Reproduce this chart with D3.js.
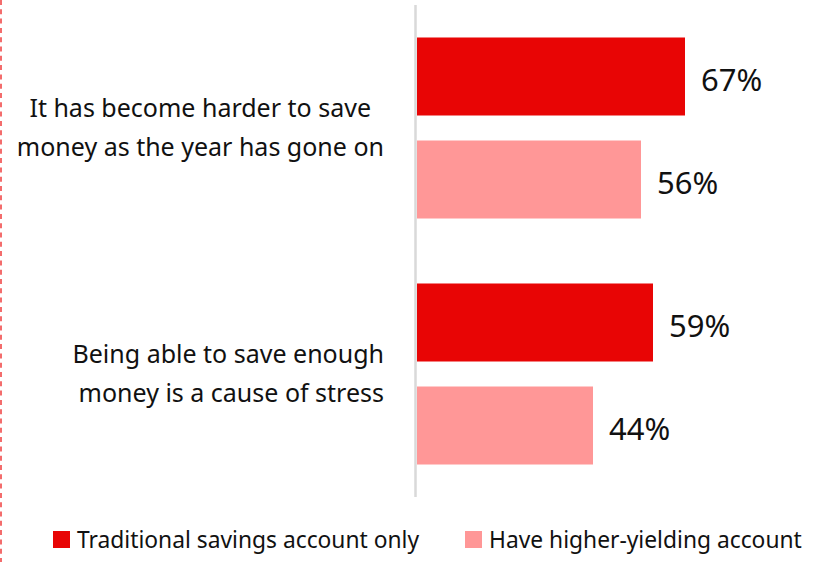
<!DOCTYPE html>
<html><head><meta charset="utf-8">
<script src="https://cdn.jsdelivr.net/npm/d3@7"></script>
<style>
html,body{margin:0;padding:0;background:#fff;}
svg{display:block;font-family:"Noto Sans",sans-serif;}
</style></head>
<body>
<svg id="chart" width="820" height="562"></svg>
<script>
const categories = [
  ["It has become harder to save  ", "money as the year has gone on"],
  ["Being able to save enough", "money is a cause of stress"]
];
const seriesNames = ["Traditional savings account only", "Have higher-yielding account"];
const traditional = [67, 59];
const higherYield = [56, 44];
const colors = ["#e80505", "#ff9797"];

const svg = d3.select("#chart");
const catIdx = categories.map((d,i)=>i);
const seriesVals = [traditional, higherYield];

const x = d3.scaleLinear().domain([0,100]).range([417,817]);
const y0 = d3.scaleBand().domain(catIdx).range([5,497]).paddingInner(0).paddingOuter(0);
const y1 = d3.scaleBand().domain([0,1]).range([0,y0.bandwidth()]).paddingInner(0.2427).paddingOuter(0.3155);

// left dashed border
svg.append("line").attr("x1",1).attr("x2",1).attr("y1",0).attr("y2",562)
  .attr("stroke","#f03c3c").attr("stroke-width",1.5).attr("stroke-dasharray","5,4.3");

// bars
const g = svg.selectAll("g.cat").data(catIdx).join("g").attr("class","cat")
  .attr("transform", d=>`translate(0,${y0(d)})`);
g.selectAll("rect").data(c=>seriesVals.map((s,si)=>({si, v:s[c]}))).join("rect")
  .attr("x", x(0)).attr("y", d=>y1(d.si)).attr("height", y1.bandwidth())
  .attr("width", d=>x(d.v)-x(0)).attr("fill", d=>colors[d.si]);
g.selectAll("text.val").data(c=>seriesVals.map((s,si)=>({si, v:s[c]}))).join("text")
  .attr("class","val")
  .attr("x", d=>x(d.v)+16).attr("y", d=>y1(d.si)+y1.bandwidth()/2+14.5)
  .attr("font-size",31).attr("fill","#111").text(d=>d.v+"%");

// axis line
svg.append("line").attr("x1",415.5).attr("x2",415.5).attr("y1",5).attr("y2",497)
  .attr("stroke","#d9d9d9").attr("stroke-width",2.5);

// category labels
g.each(function(c){
  const mid = y0.bandwidth()/2;
  const t = d3.select(this).append("text").attr("text-anchor","end")
    .attr("font-size",25).attr("fill","#111").style("white-space","pre");
  categories[c].forEach((line,li)=>{
    t.append("tspan").attr("x",384).attr("y", mid - 11 + li*39).text(line);
  });
});

// legend
const legX = [53, 465];
const lg = svg.selectAll("g.leg").data(seriesNames).join("g").attr("class","leg")
  .attr("transform",(d,i)=>`translate(${legX[i]},531)`);
lg.append("rect").attr("width",17).attr("height",17).attr("fill",(d,i)=>colors[i]);
lg.append("text").attr("x",24).attr("y",17).attr("font-size",22.8).attr("fill","#111").text(d=>d);
</script>
</body></html>
